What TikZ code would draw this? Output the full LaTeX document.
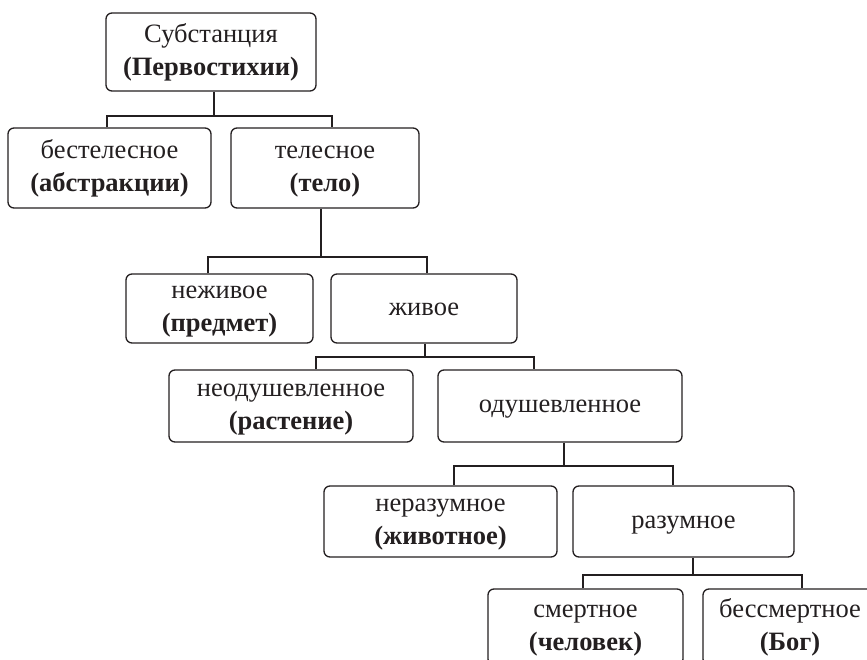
\documentclass[tikz,border=0pt]{standalone}
\usepackage{fontspec}
\setmainfont{Liberation Serif}
\definecolor{ink}{HTML}{231F20}
\begin{document}
\begin{tikzpicture}[x=1pt,y=-1pt,
  box/.style={draw=ink, line width=1.3pt, rounded corners=6pt, align=center, inner sep=0pt,
    text=ink, font=\fontsize{26.5}{33}\selectfont},
  conn/.style={draw=ink, line width=1.3pt}]
\useasboundingbox (0,0) rectangle (867,660);
\clip (0,0) rectangle (867,660);
% boxes
\node[box, minimum width=210, minimum height=78] (sub) at (211,52) {\strut Субстанция\\\strut\textbf{(Первостихии)}};
\node[box, minimum width=203, minimum height=80] (bes) at (109.5,168) {\strut бестелесное\\\strut\textbf{(абстракции)}};
\node[box, minimum width=188, minimum height=80] (tel) at (325,168) {\strut телесное\\\strut\textbf{(тело)}};
\node[box, minimum width=187, minimum height=69] (nezh) at (219.5,308.5) {\strut неживое\\\strut\textbf{(предмет)}};
\node[box, minimum width=186, minimum height=69] (zhiv) at (424,308.5) {\strut живое};
\node[box, minimum width=244, minimum height=72] (neod) at (291,406) {\strut неодушевленное\\\strut\textbf{(растение)}};
\node[box, minimum width=244, minimum height=72] (odu) at (560,406) {\strut одушевленное};
\node[box, minimum width=233, minimum height=71] (nera) at (440.5,521.5) {\strut неразумное\\\strut\textbf{(животное)}};
\node[box, minimum width=221, minimum height=71] (raz) at (683.5,521.5) {\strut разумное};
\node[box, minimum width=195, minimum height=76] (smer) at (585.5,627) {\strut смертное\\\strut\textbf{(человек)}};
\node[box, minimum width=174, minimum height=76] (bess) at (790,627) {\strut бессмертное\\\strut\textbf{(Бог)}};
% junctions
\coordinate (j1) at (214,116); \coordinate (j1a) at (107,116); \coordinate (j1b) at (332,116);
\coordinate (j2) at (321,257); \coordinate (j2a) at (208,257); \coordinate (j2b) at (427,257);
\coordinate (j3) at (425,357); \coordinate (j3a) at (316,357); \coordinate (j3b) at (534,357);
\coordinate (j4) at (564,466); \coordinate (j4a) at (454,466); \coordinate (j4b) at (673,466);
\coordinate (j5) at (693,575); \coordinate (j5a) at (583,575); \coordinate (j5b) at (802,575);
% connectors
\draw[conn] (sub.south -| j1) -- (j1);
\draw[conn] (bes.north -| j1a) -- (j1a) -- (j1b) -- (tel.north -| j1b);
\draw[conn] (tel.south -| j2) -- (j2);
\draw[conn] (nezh.north -| j2a) -- (j2a) -- (j2b) -- (zhiv.north -| j2b);
\draw[conn] (zhiv.south -| j3) -- (j3);
\draw[conn] (neod.north -| j3a) -- (j3a) -- (j3b) -- (odu.north -| j3b);
\draw[conn] (odu.south -| j4) -- (j4);
\draw[conn] (nera.north -| j4a) -- (j4a) -- (j4b) -- (raz.north -| j4b);
\draw[conn] (raz.south -| j5) -- (j5);
\draw[conn] (smer.north -| j5a) -- (j5a) -- (j5b) -- (bess.north -| j5b);
\end{tikzpicture}
\end{document}
